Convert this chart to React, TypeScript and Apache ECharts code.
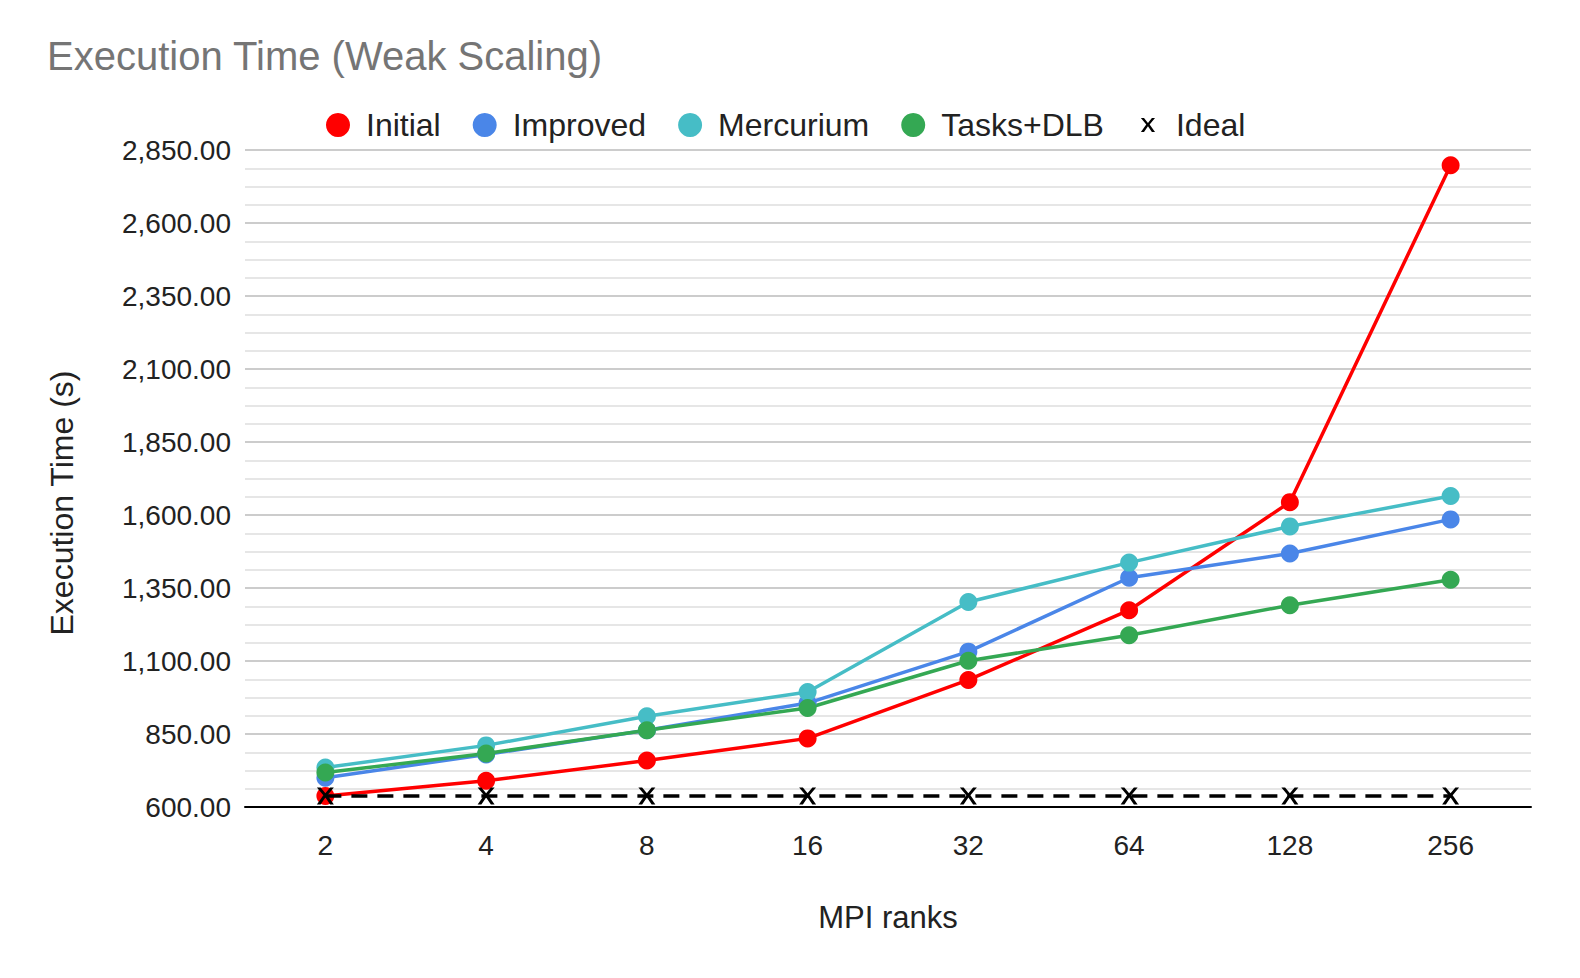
import React, { useEffect, useRef } from "react";
import * as echarts from "echarts";

const categories = ["2", "4", "8", "16", "32", "64", "128", "256"];
const initial = [638, 690, 759, 835, 1035, 1274, 1644, 2798];
const improved = [700, 780, 863, 956, 1132, 1385, 1468, 1585];
const mercurium = [735, 811, 911, 994, 1302, 1437, 1561, 1665];
const tasksDlb = [718, 783, 863, 939, 1101, 1188, 1291, 1378];
const ideal = [638, 638, 638, 638, 638, 638, 638, 638];

const FONT = "'Liberation Sans', Arial, sans-serif";
const X_SHAPE = "M0,0 L2.2,0 L5,3.5 L7.8,0 L10,0 L6.2,4.6 L10,10 L7.8,10 L5,5.9 L2.2,10 L0,10 L3.8,4.6 Z";
const X_PATH = "path://" + X_SHAPE;
const X_LEGEND = "path://M-3.5,-3.5 L-3.49,-3.5 L-3.5,-3.49 Z M13.5,13.5 L13.49,13.5 L13.5,13.49 Z " + X_SHAPE;

export default function App() {
  const ref = useRef<HTMLDivElement>(null);
  useEffect(() => {
    if (!ref.current) return;
    const chart = echarts.init(ref.current, undefined, { renderer: "svg" });
    const mk = (name: string, data: number[], color: string) => ({
      name,
      type: "line",
      data,
      symbol: "circle",
      symbolSize: 18,
      lineStyle: { width: 3.5, color },
      itemStyle: { color },
      z: 3,
    });
    chart.setOption({
      animation: false,
      backgroundColor: "#ffffff",
      textStyle: { fontFamily: FONT },
      title: {
        text: "Execution Time (Weak Scaling)",
        left: 34,
        top: 23,
        textStyle: { color: "#757575", fontSize: 40, fontWeight: "normal", fontFamily: FONT },
      },
      legend: {
        top: 96,
        left: 313,
        itemGap: 32,
        itemWidth: 24,
        itemHeight: 24,
        textStyle: { fontSize: 32, color: "#222", fontFamily: FONT, padding: [0, 0, 0, 11] },
        data: [
          { name: "Initial", icon: "circle" },
          { name: "Improved", icon: "circle" },
          { name: "Mercurium", icon: "circle" },
          { name: "Tasks+DLB", icon: "circle" },
          { name: "Ideal", icon: X_LEGEND, itemStyle: { borderWidth: 0 } },
        ],
      },
      graphic: [
        {
          type: "text",
          x: 54,
          y: 495,
          rotation: Math.PI / 2,
          style: {
            text: "Execution Time (s)",
            fontSize: 32,
            fontFamily: FONT,
            fill: "#222",
            align: "center",
            verticalAlign: "middle",
          },
        },
      ],
      grid: { left: 237, right: 41, top: 142, bottom: 163, containLabel: false },
      xAxis: [
        {
          type: "category",
          data: categories,
          boundaryGap: true,
          position: "bottom",
          name: "MPI ranks",
          nameLocation: "middle",
          nameGap: 95,
          nameTextStyle: { fontSize: 31, color: "#222", fontFamily: FONT },
          axisLine: { lineStyle: { color: "#000", width: 2 } },
          axisTick: { alignWithLabel: true, length: 12, lineStyle: { color: "#000", width: 2 } },
          axisLabel: { fontSize: 28, color: "#222", margin: 24, fontFamily: FONT },
        },
        {
          type: "category",
          data: categories,
          boundaryGap: true,
          position: "bottom",
          axisLine: { show: false },
          axisTick: { alignWithLabel: true, inside: true, length: 11, lineStyle: { color: "#000", width: 2 } },
          axisLabel: { show: false },
        },
      ],
      yAxis: {
        type: "value",
        min: 600,
        max: 2850,
        interval: 250,
        axisLine: { show: false },
        axisTick: { show: false },
        axisLabel: {
          fontSize: 28,
          color: "#222",
          margin: 14,
          fontFamily: FONT,
          formatter: (v: number) =>
            v.toLocaleString("en-US", { minimumFractionDigits: 2, maximumFractionDigits: 2 }),
        },
        splitLine: { lineStyle: { color: "#cccccc", width: 2 } },
        minorTick: { show: false, splitNumber: 4 },
        minorSplitLine: { show: true, lineStyle: { color: "#e6e6e6", width: 2 } },
      },
      series: [
        mk("Initial", initial, "#ff0000"),
        mk("Improved", improved, "#4a86e8"),
        mk("Mercurium", mercurium, "#46bdc6"),
        mk("Tasks+DLB", tasksDlb, "#34a853"),
        {
          name: "Ideal",
          type: "line",
          data: ideal,
          symbol: X_PATH,
          symbolSize: 17,
          lineStyle: { width: 3.5, color: "#000", type: [16, 10] },
          itemStyle: { color: "#000" },
          z: 4,
        },
      ],
    });
    return () => chart.dispose();
  }, []);
  return <div ref={ref} style={{ width: 1564, height: 962 }} />;
}
